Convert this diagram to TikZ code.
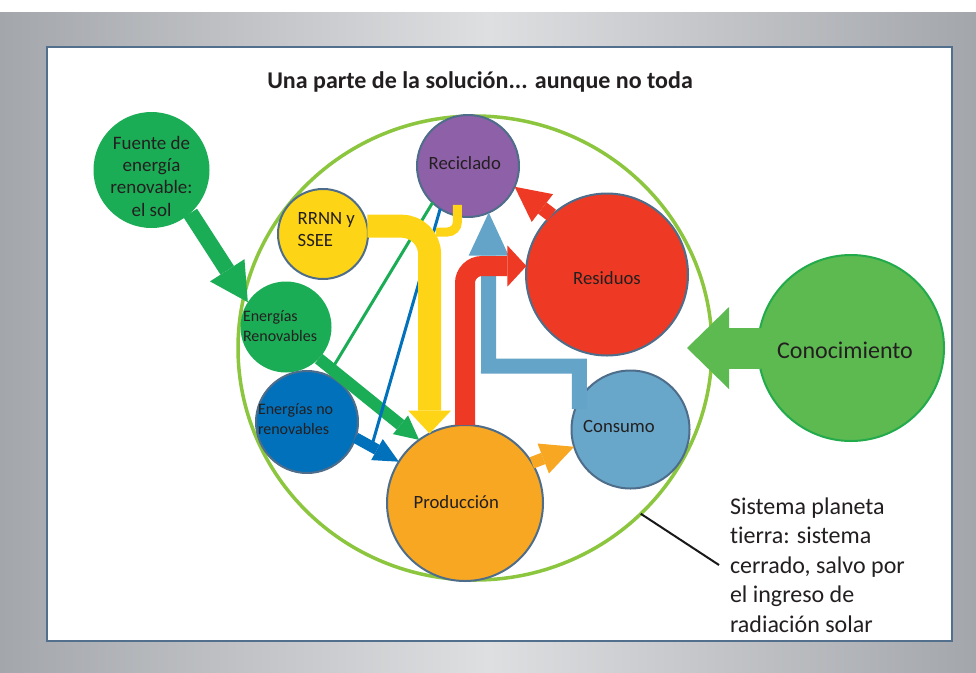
\documentclass[tikz,border=0pt]{standalone}
\usepackage{fontspec}
\setmainfont{Carlito}[Ligatures={NoCommon}]
\usetikzlibrary{arrows.meta,shapes.geometric}
\definecolor{bgdark}{HTML}{A3A6AB}
\definecolor{bglight}{HTML}{DEDFE1}
\definecolor{framec}{HTML}{52708E}
\definecolor{nodeborder}{HTML}{4E6D8A}
\definecolor{planetc}{HTML}{8CC63F}
\definecolor{sungreen}{HTML}{1BAD55}
\definecolor{conofill}{HTML}{5DBA51}
\definecolor{conoline}{HTML}{22AA4B}
\definecolor{yel}{HTML}{FED516}
\definecolor{purp}{HTML}{8E60A8}
\definecolor{redc}{HTML}{EE3A24}
\definecolor{lblue}{HTML}{68A7C9}
\definecolor{ablue}{HTML}{63A4C8}
\definecolor{orng}{HTML}{F8A722}
\definecolor{dblue}{HTML}{0271BB}
\definecolor{txt}{HTML}{231F20}
\begin{document}
\begin{tikzpicture}[x=1pt,y=-1pt,
  circ/.style={circle, inner sep=0pt, outer sep=0pt, draw=nodeborder, line width=2pt},
  lbl/.style={inner sep=0pt, outer sep=0pt, text=txt},
  lab/.style={lbl, font=\fontsize{18.7}{22}\selectfont},
  flow/.style n args={4}{draw=#1, line width=#2, -{Triangle[width=#3, length=#4, line width=0pt]}},
  thinflow/.style={draw=#1, line width=3pt},
]
\useasboundingbox (0,0) rectangle (976,672);
\fill[white] (0,0) rectangle (976,12);
\shade[left color=bgdark, right color=bgdark, middle color=bglight] (0,12) rectangle (976,672);
\filldraw[fill=white, draw=framec, line width=2pt] (47,47) rectangle (952,641);

\node[lbl, font=\bfseries\fontsize{24}{28}\selectfont, anchor=base] (title) at (480,88.6) {Una parte de la solución... aunque no toda};

\node[ellipse, draw=planetc, line width=3.5pt, minimum width=474pt, minimum height=464pt, inner sep=0pt, outer sep=0pt] (planet) at (475,348) {};

\node[circ, draw=none, fill=sungreen, minimum size=116pt] (fuente) at (151.5,170) {};
\node[circ, draw=none, fill=sungreen, minimum size=91pt] (enren) at (286,327) {};
\node[circ, fill=dblue, minimum size=102pt] (enoren) at (307,422) {};
\node[circ, fill=yel, minimum size=90pt] (rrnn) at (323,234) {};
\node[circ, fill=purp, minimum size=102pt] (rec) at (468,166) {};
\node[circ, fill=redc, minimum size=162pt] (res) at (607,274.5) {};
\node[circ, fill=lblue, minimum size=118pt] (cons) at (630.5,429.5) {};
\node[circ, fill=orng, minimum size=156pt] (prod) at (465,503) {};
\node[circ, draw=conoline, fill=conofill, minimum size=186pt] (cono) at (851,348) {};

\draw[flow={sungreen}{16pt}{41pt}{38pt}] (fuente.-48) -- (enren.147);
\draw[flow={sungreen}{12pt}{24pt}{24pt}] (enren.-44) -- coordinate[pos=0.13] (gj) (prod.126);
\draw[flow={dblue}{11pt}{24pt}{25pt}] (enoren.-18) -- coordinate[pos=0.37] (bj) (prod.148);
\draw[thinflow=sungreen] (rec.-134) -- (gj);
\draw[thinflow=dblue] (rec.-123) -- (bj);
\coordinate (yj) at (436,232);
\draw[draw=yel, line width=9pt, rounded corners=10pt, shorten <=-11pt] (rec.-102) |- (yj);
\draw[flow={yel}{23pt}{43pt}{23pt}, rounded corners=28pt] (rrnn.10) -| (prod.117);
\coordinate (bturn) at (488.5,366);
\draw[flow={ablue}{15pt}{40pt}{43pt}, shorten <=-9pt] (cons.150) |- (bturn) -- (rec.-66);
\draw[flow={redc}{20pt}{41pt}{19pt}, rounded corners=17pt] (prod.north) |- (res.174);
\draw[flow={redc}{14pt}{35pt}{35pt}] (res.133) -- (rec.-24);
\draw[flow={orng}{12pt}{32pt}{33pt}] (prod.31) -- (cons.-163);
\coordinate (ctip) at (687,348);
\draw[flow={conofill}{41pt}{82pt}{42pt}, shorten <=-3pt] (cono.west) -- (ctip);

\node[lbl, font=\fontsize{19}{22.3}\selectfont, align=center] (fuenteL) at (151.5,176.2) {Fuente de\\energía\\renovable:\\el sol};
\node[lbl, font=\fontsize{16}{19.7}\selectfont, align=left, anchor=west] (enrenL) at (243,326) {Energías\\Renovables};
\node[lbl, font=\fontsize{16}{19.7}\selectfont, align=left, anchor=west] (enorenL) at (258,419.3) {Energías no\\renovables};
\node[lbl, font=\fontsize{18.7}{21.7}\selectfont, align=left, anchor=west] (rrnnL) at (297.7,229.5) {RRNN y\\SSEE};
\node[lab, anchor=base] (recL) at (464.8,169.4) {Reciclado};
\node[lab, anchor=base] (resL) at (607,284.4) {Residuos};
\node[lab, anchor=base] (consL) at (619,432.1) {Consumo};
\node[lab, anchor=base] (prodL) at (456.3,508.7) {Producción};
\node[lbl, font=\fontsize{24}{28}\selectfont, anchor=base] (conoL) at (845,358.9) {Conocimiento};

\node[lbl, font=\fontsize{24}{29.4}\selectfont, align=left, anchor=west, inner xsep=11pt] (sistema) at (719,565) {Sistema planeta\\tierra: sistema\\cerrado, salvo por\\el ingreso de\\radiación solar};
\draw[black!90, line width=2pt] (planet.-45) -- (sistema.west);
\end{tikzpicture}
\end{document}
